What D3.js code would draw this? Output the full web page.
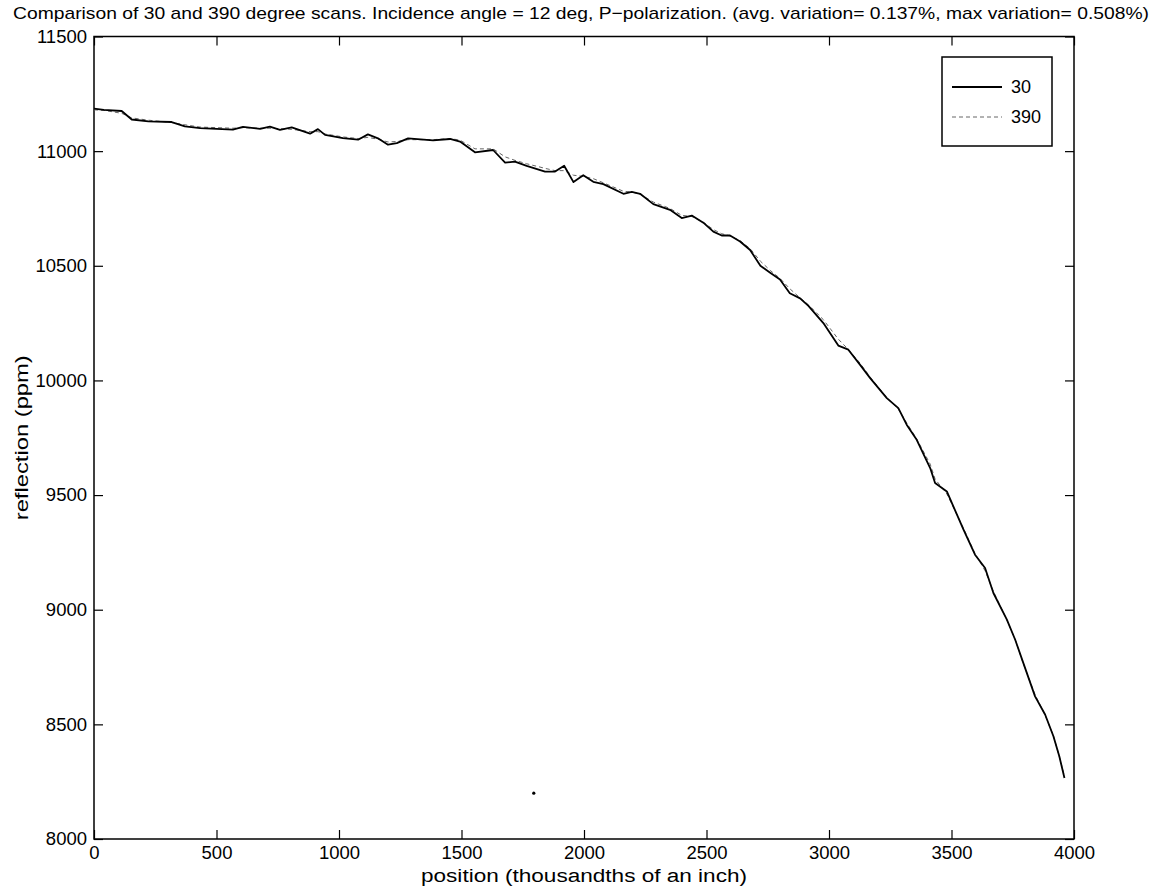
<!DOCTYPE html>
<html>
<head>
<meta charset="utf-8">
<script src="https://cdn.jsdelivr.net/npm/d3@7"></script>
<style>
  body { margin: 0; background: #fff; }
  text { font-family: "Liberation Sans", Arial, Helvetica, sans-serif; fill: #000; }
</style>
</head>
<body>
<svg id="chart"></svg>
<script>
// positions (thousandths of an inch)
const positions = [0, 40, 113, 154, 222, 317, 371, 433, 567, 608, 678, 718, 759, 807, 882, 914, 943,
  1016, 1078, 1118, 1159, 1200, 1236, 1282, 1384, 1453, 1494, 1555, 1629, 1678, 1718, 1766, 1841,
  1882, 1919, 1957, 1997, 2038, 2079, 2161, 2195, 2229, 2283, 2351, 2399, 2440, 2487, 2528, 2562,
  2596, 2637, 2678, 2720, 2760, 2800, 2840, 2882, 2916, 2977, 3038, 3079, 3127, 3168, 3236, 3283,
  3317, 3358, 3413, 3433, 3481, 3549, 3596, 3637, 3671, 3726, 3760, 3793, 3841, 3882, 3916, 3940, 3961];

// 30 degree scan (solid)
const scan30 = [11185, 11180, 11175, 11138, 11130, 11127, 11108, 11100, 11094, 11106, 11097, 11107, 11093, 11104, 11076, 11096, 11071,
  11057, 11050, 11073, 11056, 11028, 11035, 11056, 11047, 11053, 11042, 10995, 11005, 10950, 10954, 10936, 10911,
  10911, 10936, 10865, 10895, 10866, 10856, 10814, 10822, 10814, 10769, 10744, 10708, 10719, 10688, 10649, 10632,
  10632, 10606, 10569, 10500, 10470, 10440, 10380, 10358, 10325, 10250, 10152, 10134, 10068, 10010, 9923, 9879,
  9807, 9741, 9618, 9553, 9516, 9349, 9240, 9182, 9073, 8957, 8869, 8768, 8622, 8543, 8448, 8361, 8266];

// 390 degree scan (dashed)
const scan390 = [11180, 11178, 11165, 11145, 11135, 11125, 11115, 11105, 11100, 11102, 11100, 11100, 11098, 11095, 11085, 11085, 11075,
  11062, 11055, 11060, 11052, 11040, 11042, 11050, 11050, 11055, 11048, 11010, 11010, 10975, 10960, 10945, 10925,
  10915, 10915, 10895, 10890, 10880, 10862, 10825, 10822, 10812, 10778, 10750, 10720, 10715, 10690, 10658, 10640,
  10630, 10610, 10575, 10520, 10480, 10445, 10400, 10360, 10330, 10265, 10180, 10135, 10075, 10015, 9925, 9875,
  9815, 9745, 9635, 9570, 9505, 9355, 9245, 9170, 9080, 8955, 8870, 8765, 8630, 8540, 8450, 8360, 8275];

// stray speck on the plot
const strayPoint = [1795, 8200];

const xTicks = [0, 500, 1000, 1500, 2000, 2500, 3000, 3500, 4000];
const yTicks = [8000, 8500, 9000, 9500, 10000, 10500, 11000, 11500];

const seriesNames = ["30", "390"];

var w = 1155;
var h = 887;
const margin = { top: 36.5, bottom: 48, left: 94, right: 81 };
const innerWidth = w - margin.left - margin.right;
const innerHeight = h - margin.top - margin.bottom;

let svg = d3.select("#chart")
  .attr("width", w)
  .attr("height", h);

const g = svg.append("g")
  .attr("transform", `translate(${margin.left}, ${margin.top})`);

let xScale = d3.scaleLinear().domain([0, 4000]).range([0, innerWidth]);
let yScale = d3.scaleLinear().domain([8000, 11500]).range([innerHeight, 0]);

// axes, ticks pointing inward on all four sides
function styleAxis(sel) {
  sel.select(".domain").remove();
  sel.selectAll(".tick line").attr("stroke", "#000").attr("stroke-width", 1.2);
  sel.selectAll(".tick text")
    .style("font-size", "18.5px")
    .style("font-family", "'Liberation Sans', Arial, sans-serif")
    .attr("fill", "#000");
}

g.append("g")
  .attr("transform", `translate(0,${innerHeight})`)
  .call(d3.axisBottom(xScale).tickValues(xTicks).tickSize(-9).tickPadding(7).tickFormat(d3.format("d")))
  .call(styleAxis);
g.append("g")
  .call(d3.axisTop(xScale).tickValues(xTicks).tickSize(-9).tickFormat(""))
  .call(styleAxis);
g.append("g")
  .call(d3.axisLeft(yScale).tickValues(yTicks).tickSize(-9).tickPadding(7).tickFormat(d3.format("d")))
  .call(styleAxis);
g.append("g")
  .attr("transform", `translate(${innerWidth},0)`)
  .call(d3.axisRight(yScale).tickValues(yTicks).tickSize(-9).tickFormat(""))
  .call(styleAxis);

// frame
g.append("rect")
  .attr("x", 0).attr("y", 0)
  .attr("width", innerWidth).attr("height", innerHeight)
  .attr("fill", "none")
  .attr("stroke", "#000")
  .attr("stroke-width", 1.5);

let line = d3.line()
  .x(function(d) { return xScale(d[0]); })
  .y(function(d) { return yScale(d[1]); });

g.append("path")
  .datum(positions.map(function(p, i) { return [p, scan390[i]]; }))
  .attr("d", line)
  .attr("fill", "none")
  .attr("stroke", "#666")
  .attr("stroke-width", 1)
  .attr("stroke-dasharray", "4,3");

g.append("path")
  .datum(positions.map(function(p, i) { return [p, scan30[i]]; }))
  .attr("d", line)
  .attr("fill", "none")
  .attr("stroke", "#000")
  .attr("stroke-width", 1.8)
  .attr("stroke-linejoin", "round");

g.append("circle")
  .attr("cx", xScale(strayPoint[0]))
  .attr("cy", yScale(strayPoint[1]))
  .attr("r", 1.6)
  .attr("fill", "#000");

// legend
const legendG = svg.append("g").attr("transform", "translate(942,57)");
legendG.append("rect")
  .attr("width", 110).attr("height", 89)
  .attr("fill", "#fff")
  .attr("stroke", "#000")
  .attr("stroke-width", 1.5);
legendG.selectAll("line")
  .data(seriesNames)
  .enter()
  .append("line")
  .attr("x1", 10).attr("x2", 60)
  .attr("y1", function(d, i) { return 30 + i * 30; })
  .attr("y2", function(d, i) { return 30 + i * 30; })
  .attr("stroke", function(d, i) { return i == 0 ? "#000" : "#666"; })
  .attr("stroke-width", function(d, i) { return i == 0 ? 1.8 : 1; })
  .attr("stroke-dasharray", function(d, i) { return i == 0 ? null : "4,3"; });
legendG.selectAll("text")
  .data(seriesNames)
  .enter()
  .append("text")
  .attr("x", 69)
  .attr("y", function(d, i) { return 36 + i * 30; })
  .style("font-size", "18px")
  .text(function(d) { return d; });

// title and axis labels
svg.append("text")
  .attr("x", 581)
  .attr("y", 19)
  .attr("text-anchor", "middle")
  .attr("textLength", 1136)
  .attr("lengthAdjust", "spacingAndGlyphs")
  .style("font-size", "17px")
  .text("Comparison of 30 and 390 degree scans. Incidence angle = 12 deg, P\u2212polarization. (avg. variation= 0.137%, max variation= 0.508%)");

svg.append("text")
  .attr("x", margin.left + innerWidth / 2)
  .attr("y", 882)
  .attr("text-anchor", "middle")
  .attr("textLength", 326)
  .attr("lengthAdjust", "spacingAndGlyphs")
  .style("font-size", "18px")
  .text("position (thousandths of an inch)");

svg.append("text")
  .attr("transform", `translate(28,${margin.top + innerHeight / 2})rotate(-90)`)
  .attr("text-anchor", "middle")
  .attr("textLength", 165)
  .attr("lengthAdjust", "spacingAndGlyphs")
  .style("font-size", "18px")
  .text("reflection (ppm)");
</script>
</body>
</html>
